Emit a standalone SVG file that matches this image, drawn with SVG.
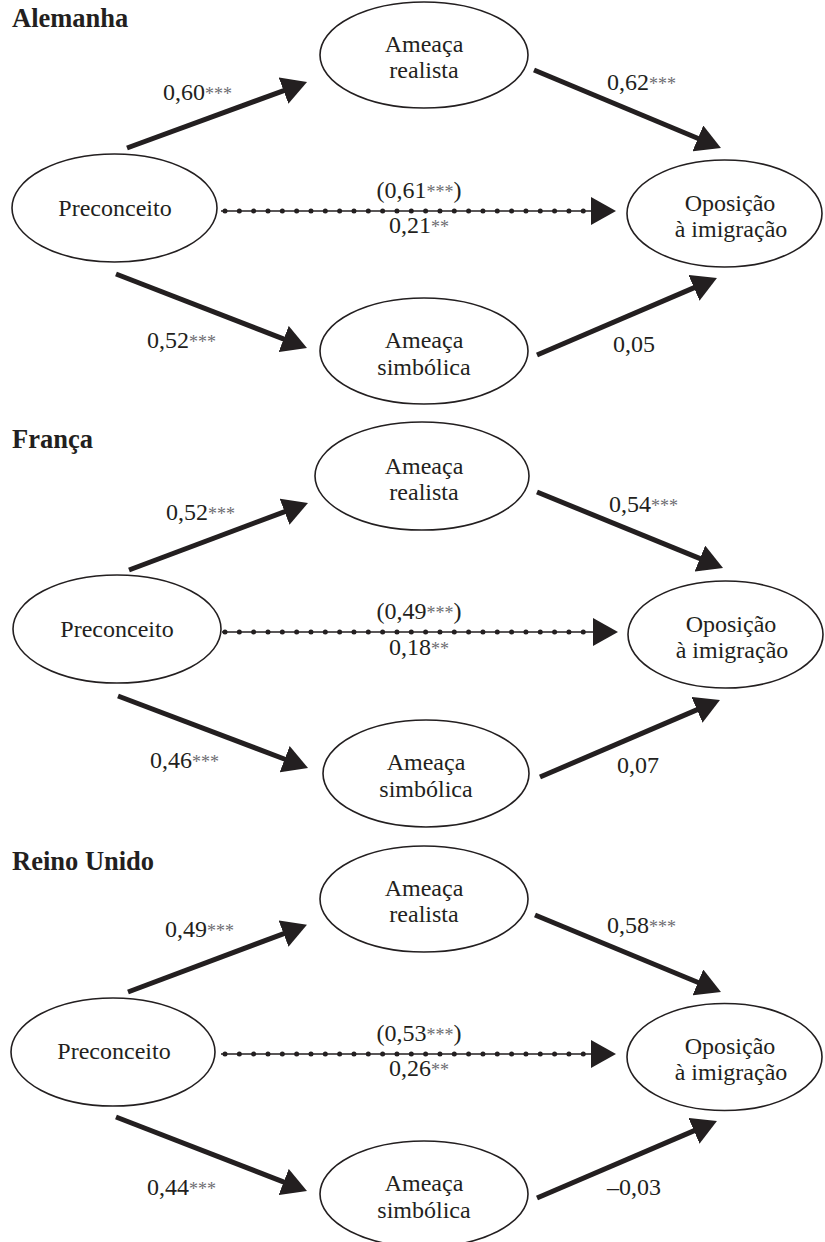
<svg xmlns="http://www.w3.org/2000/svg" width="825" height="1242" viewBox="0 0 825 1242">
<style>
.bg{fill:#fff}
.node ellipse{fill:#fff;stroke:#231f20;stroke-width:1.6}
.t{font-family:'Liberation Serif','Times New Roman','DejaVu Serif',serif;font-size:24px;fill:#231f20}
.c{text-anchor:middle}
.title{font-family:'Liberation Serif','Times New Roman','DejaVu Serif',serif;font-size:26.5px;font-weight:bold;fill:#231f20}
.ast{font-size:18px;fill:#6d6e71}
.arr{stroke:#231f20;stroke-width:5;fill:none;marker-end:url(#ah)}
.thin{stroke:#231f20;stroke-width:1.5;fill:none;marker-end:url(#ah)}
.dots{stroke:#231f20;stroke-width:5;stroke-linecap:round;stroke-dasharray:0 14.33;fill:none}
</style>
<defs>
<marker id="ah" markerUnits="userSpaceOnUse" markerWidth="25" markerHeight="28" viewBox="0 0 25 28" refX="1" refY="14" orient="auto">
<path d="M0,0 L25,14 L0,28 Z" fill="#231f20"/>
</marker>
</defs>
<rect class="bg" x="0" y="0" width="825" height="1242"/>

<!-- Panel 1: Alemanha -->
<g id="panel-alemanha">
<text class="title" x="12" y="27">Alemanha</text>
<g id="de-connectors">
<line class="arr" x1="127" y1="148" x2="284.5" y2="90.3"/>
<line class="arr" x1="534" y1="70" x2="698.8" y2="138.8"/>
<line class="arr" x1="116" y1="274" x2="284.6" y2="339.3"/>
<line class="arr" x1="537" y1="355" x2="694.9" y2="287.4"/>
<line class="thin" x1="221" y1="211" x2="592" y2="211"/>
<line class="dots" x1="225" y1="211" x2="585" y2="211"/>
<text class="t" x="163" y="100">0,60<tspan class="ast">***</tspan></text>
<text class="t" x="607" y="90">0,62<tspan class="ast">***</tspan></text>
<text class="t c" x="419" y="198">(0,61<tspan class="ast">***</tspan>)</text>
<text class="t c" x="419" y="233">0,21<tspan class="ast">**</tspan></text>
<text class="t" x="147" y="348">0,52<tspan class="ast">***</tspan></text>
<text class="t" x="613" y="352">0,05</text>
</g>
<g id="de-realista" class="node">
<ellipse cx="424" cy="55" rx="104" ry="53"/>
<text class="t c" x="424" y="52">Ameaça</text>
<text class="t c" x="424" y="78">realista</text>
</g>
<g id="de-preconceito" class="node">
<ellipse cx="114.5" cy="208" rx="102.5" ry="54"/>
<text class="t c" x="115" y="216">Preconceito</text>
</g>
<g id="de-oposicao" class="node">
<ellipse cx="724.5" cy="213.5" rx="97.5" ry="53.5"/>
<text class="t c" x="730" y="211">Oposição</text>
<text class="t c" x="731" y="237">à imigração</text>
</g>
<g id="de-simbolica" class="node">
<ellipse cx="424" cy="351" rx="104" ry="53"/>
<text class="t c" x="424" y="348">Ameaça</text>
<text class="t c" x="424" y="375">simbólica</text>
</g>
</g>

<!-- Panel 2: França -->
<g id="panel-franca" transform="translate(0,421)">
<text class="title" x="12" y="27">França</text>
<g id="fr-connectors">
<line class="arr" x1="129" y1="149" x2="285.5" y2="90.4"/>
<line class="arr" x1="537" y1="71" x2="700.8" y2="137.9"/>
<line class="arr" x1="118" y1="275" x2="285.6" y2="338.5"/>
<line class="arr" x1="540" y1="356" x2="697.9" y2="288.4"/>
<line class="thin" x1="222" y1="211" x2="594" y2="211"/>
<line class="dots" x1="225" y1="211" x2="585" y2="211"/>
<text class="t" x="166" y="99">0,52<tspan class="ast">***</tspan></text>
<text class="t" x="609" y="91">0,54<tspan class="ast">***</tspan></text>
<text class="t c" x="419" y="198">(0,49<tspan class="ast">***</tspan>)</text>
<text class="t c" x="419" y="234">0,18<tspan class="ast">**</tspan></text>
<text class="t" x="150" y="347">0,46<tspan class="ast">***</tspan></text>
<text class="t" x="617" y="352">0,07</text>
</g>
<g id="fr-realista" class="node">
<ellipse cx="422" cy="55" rx="107" ry="54"/>
<text class="t c" x="424" y="53">Ameaça</text>
<text class="t c" x="424" y="79">realista</text>
</g>
<g id="fr-preconceito" class="node">
<ellipse cx="117" cy="208" rx="104" ry="54"/>
<text class="t c" x="117" y="216">Preconceito</text>
</g>
<g id="fr-oposicao" class="node">
<ellipse cx="725.5" cy="213.5" rx="97.5" ry="53.5"/>
<text class="t c" x="731" y="211">Oposição</text>
<text class="t c" x="732" y="237">à imigração</text>
</g>
<g id="fr-simbolica" class="node">
<ellipse cx="426" cy="352.5" rx="103" ry="53.5"/>
<text class="t c" x="426" y="349">Ameaça</text>
<text class="t c" x="426" y="376">simbólica</text>
</g>
</g>

<!-- Panel 3: Reino Unido -->
<g id="panel-reino-unido" transform="translate(0,843)">
<text class="title" x="12" y="27">Reino Unido</text>
<g id="uk-connectors">
<line class="arr" x1="128" y1="149" x2="284.5" y2="90.3"/>
<line class="arr" x1="535" y1="72" x2="698.8" y2="139.8"/>
<line class="arr" x1="116" y1="274" x2="284.6" y2="339.3"/>
<line class="arr" x1="537" y1="355" x2="694.9" y2="287.4"/>
<line class="thin" x1="221" y1="211" x2="592" y2="211"/>
<line class="dots" x1="225" y1="211" x2="585" y2="211"/>
<text class="t" x="165" y="94">0,49<tspan class="ast">***</tspan></text>
<text class="t" x="607" y="90">0,58<tspan class="ast">***</tspan></text>
<text class="t c" x="419" y="198">(0,53<tspan class="ast">***</tspan>)</text>
<text class="t c" x="419" y="233">0,26<tspan class="ast">**</tspan></text>
<text class="t" x="147" y="352">0,44<tspan class="ast">***</tspan></text>
<text class="t" x="607" y="352">–0,03</text>
</g>
<g id="uk-realista" class="node">
<ellipse cx="424" cy="56" rx="104" ry="53"/>
<text class="t c" x="424" y="53">Ameaça</text>
<text class="t c" x="424" y="79">realista</text>
</g>
<g id="uk-preconceito" class="node">
<ellipse cx="113" cy="209" rx="102" ry="54"/>
<text class="t c" x="114" y="216">Preconceito</text>
</g>
<g id="uk-oposicao" class="node">
<ellipse cx="724.5" cy="214" rx="97.5" ry="53.5"/>
<text class="t c" x="730" y="211">Oposição</text>
<text class="t c" x="731" y="237">à imigração</text>
</g>
<g id="uk-simbolica" class="node">
<ellipse cx="424" cy="351" rx="104" ry="53"/>
<text class="t c" x="424" y="348">Ameaça</text>
<text class="t c" x="424" y="375">simbólica</text>
</g>
</g>
</svg>
